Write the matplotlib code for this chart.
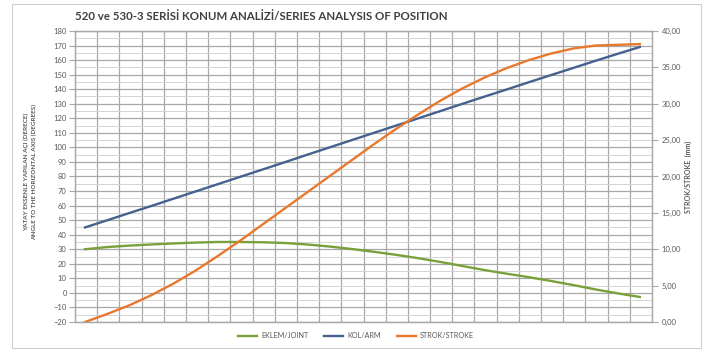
import numpy as np
import matplotlib
matplotlib.use("Agg")
import matplotlib.pyplot as plt
from matplotlib.patches import Rectangle

# ---- data ----
steps = np.arange(26)
arm_deg = [45, 49.9, 54.9, 59.8, 64.8, 69.8, 74.8, 79.8, 84.8, 89.8, 94.9, 99.9, 104.9,
           109.9, 114.9, 119.9, 124.9, 129.9, 134.9, 139.8, 144.8, 149.7, 154.6, 159.5, 164.3, 169]
joint_deg = [30, 31.5, 32.5, 33.3, 34.0, 34.6, 35.0, 35.0, 34.8, 34.3, 33.3, 31.9, 30.2,
             28.3, 26.2, 23.9, 21.3, 18.5, 15.7, 13.2, 10.8, 8.2, 5.4, 2.4, -0.3, -2.8]
stroke_mm = [0.0, 1.1, 2.3, 3.7, 5.3, 7.1, 9.1, 11.2, 13.4, 15.6, 17.8, 20.0, 22.2,
             24.4, 26.5, 28.5, 30.4, 32.1, 33.6, 34.9, 36.0, 36.9, 37.6, 38.0, 38.1, 38.2]

left_ticks = list(range(-20, 181, 10))
right_ticks = [0, 5, 10, 15, 20, 25, 30, 35, 40]
right_labels = ["0,00", "5,00", "10,00", "15,00", "20,00", "25,00", "30,00", "35,00", "40,00"]

title = "520 ve 530-3 SERİSİ KONUM ANALİZİ/SERIES ANALYSIS OF POSITION"
ylabel_left = "YATAY EKSENLE YAPILAN AÇI (DERECE)\nANGLE TO THE HORIZONTAL AXIS (DEGREES)"
ylabel_right = "STROK/STROKE  (mm)"
names = ["EKLEM/JOINT", "KOL/ARM", "STROK/STROKE"]

c_green = "#79a03a"
c_blue = "#45618e"
c_orange = "#e8782e"
grid_c = "#a8a8a8"
txt_c = "#595959"

plt.rcParams['font.family'] = ['Lato', 'DejaVu Sans']

fig = plt.figure(figsize=(7.06, 3.54), dpi=100)
ax = fig.add_axes([75/706, 1-322/354, (652-75)/706, (322-31)/354])
ax2 = ax.twinx()

ax.set_xlim(-0.45, 25.55)
ax.set_ylim(-20, 180)
ax2.set_ylim(0, 40)

# grid
ax.set_xticks(np.arange(0.55, 25.55, 1.0))
ax.tick_params(axis='x', length=0, labelbottom=False)
ax.grid(axis='x', color=grid_c, lw=0.9)
ax.set_yticks(left_ticks)
ax.set_yticks(np.arange(-15, 180, 10), minor=True)
ax.grid(axis='y', which='major', color=grid_c, lw=0.9)
ax.grid(axis='y', which='minor', color="#d4d4d4", lw=0.7)
ax.set_axisbelow(True)
ax.tick_params(axis='y', which='major', labelsize=5.5, labelcolor=txt_c, color=grid_c, length=4, pad=2)
ax.tick_params(axis='y', which='minor', length=0)

ax2.set_yticks(right_ticks)
ax2.set_yticklabels(right_labels)
ax2.tick_params(axis='y', labelsize=5.5, labelcolor=txt_c, color=grid_c, length=4, pad=3)

for a in (ax, ax2):
    for s in a.spines.values():
        s.set_color(grid_c)
        s.set_linewidth(0.9)

l1, = ax.plot(steps, joint_deg, color=c_green, lw=1.7, label=names[0])
l2, = ax.plot(steps, arm_deg, color=c_blue, lw=1.7, label=names[1])
l3, = ax2.plot(steps, stroke_mm, color=c_orange, lw=1.7, label=names[2])

fig.text(75/706, 1-16/354, title, fontsize=8.3, fontweight='bold', color="#404040",
         ha='left', va='center')
fig.text(30/706, 1-172/354, ylabel_left, rotation=90, fontsize=4.6, fontweight='bold',
         color=txt_c, ha='center', va='center', linespacing=1.6)
fig.text(688/706, 1-177/354, ylabel_right, rotation=90, fontsize=5, fontweight='bold',
         color=txt_c, ha='center', va='center')

leg = fig.legend(handles=[l1, l2, l3], loc='center', bbox_to_anchor=(356/706, 1-336/354),
                 ncol=3, frameon=False, fontsize=5.2, handlelength=2.6, columnspacing=2.2,
                 handletextpad=0.6)
for t in leg.get_texts():
    t.set_color(txt_c)

fig.patches.append(Rectangle((12/706, 1-348/354), (701-12)/706, (348-4)/354,
                             transform=fig.transFigure, fill=False, edgecolor="#d0d0d0", lw=0.8))

fig.savefig("out.png", dpi=100)
